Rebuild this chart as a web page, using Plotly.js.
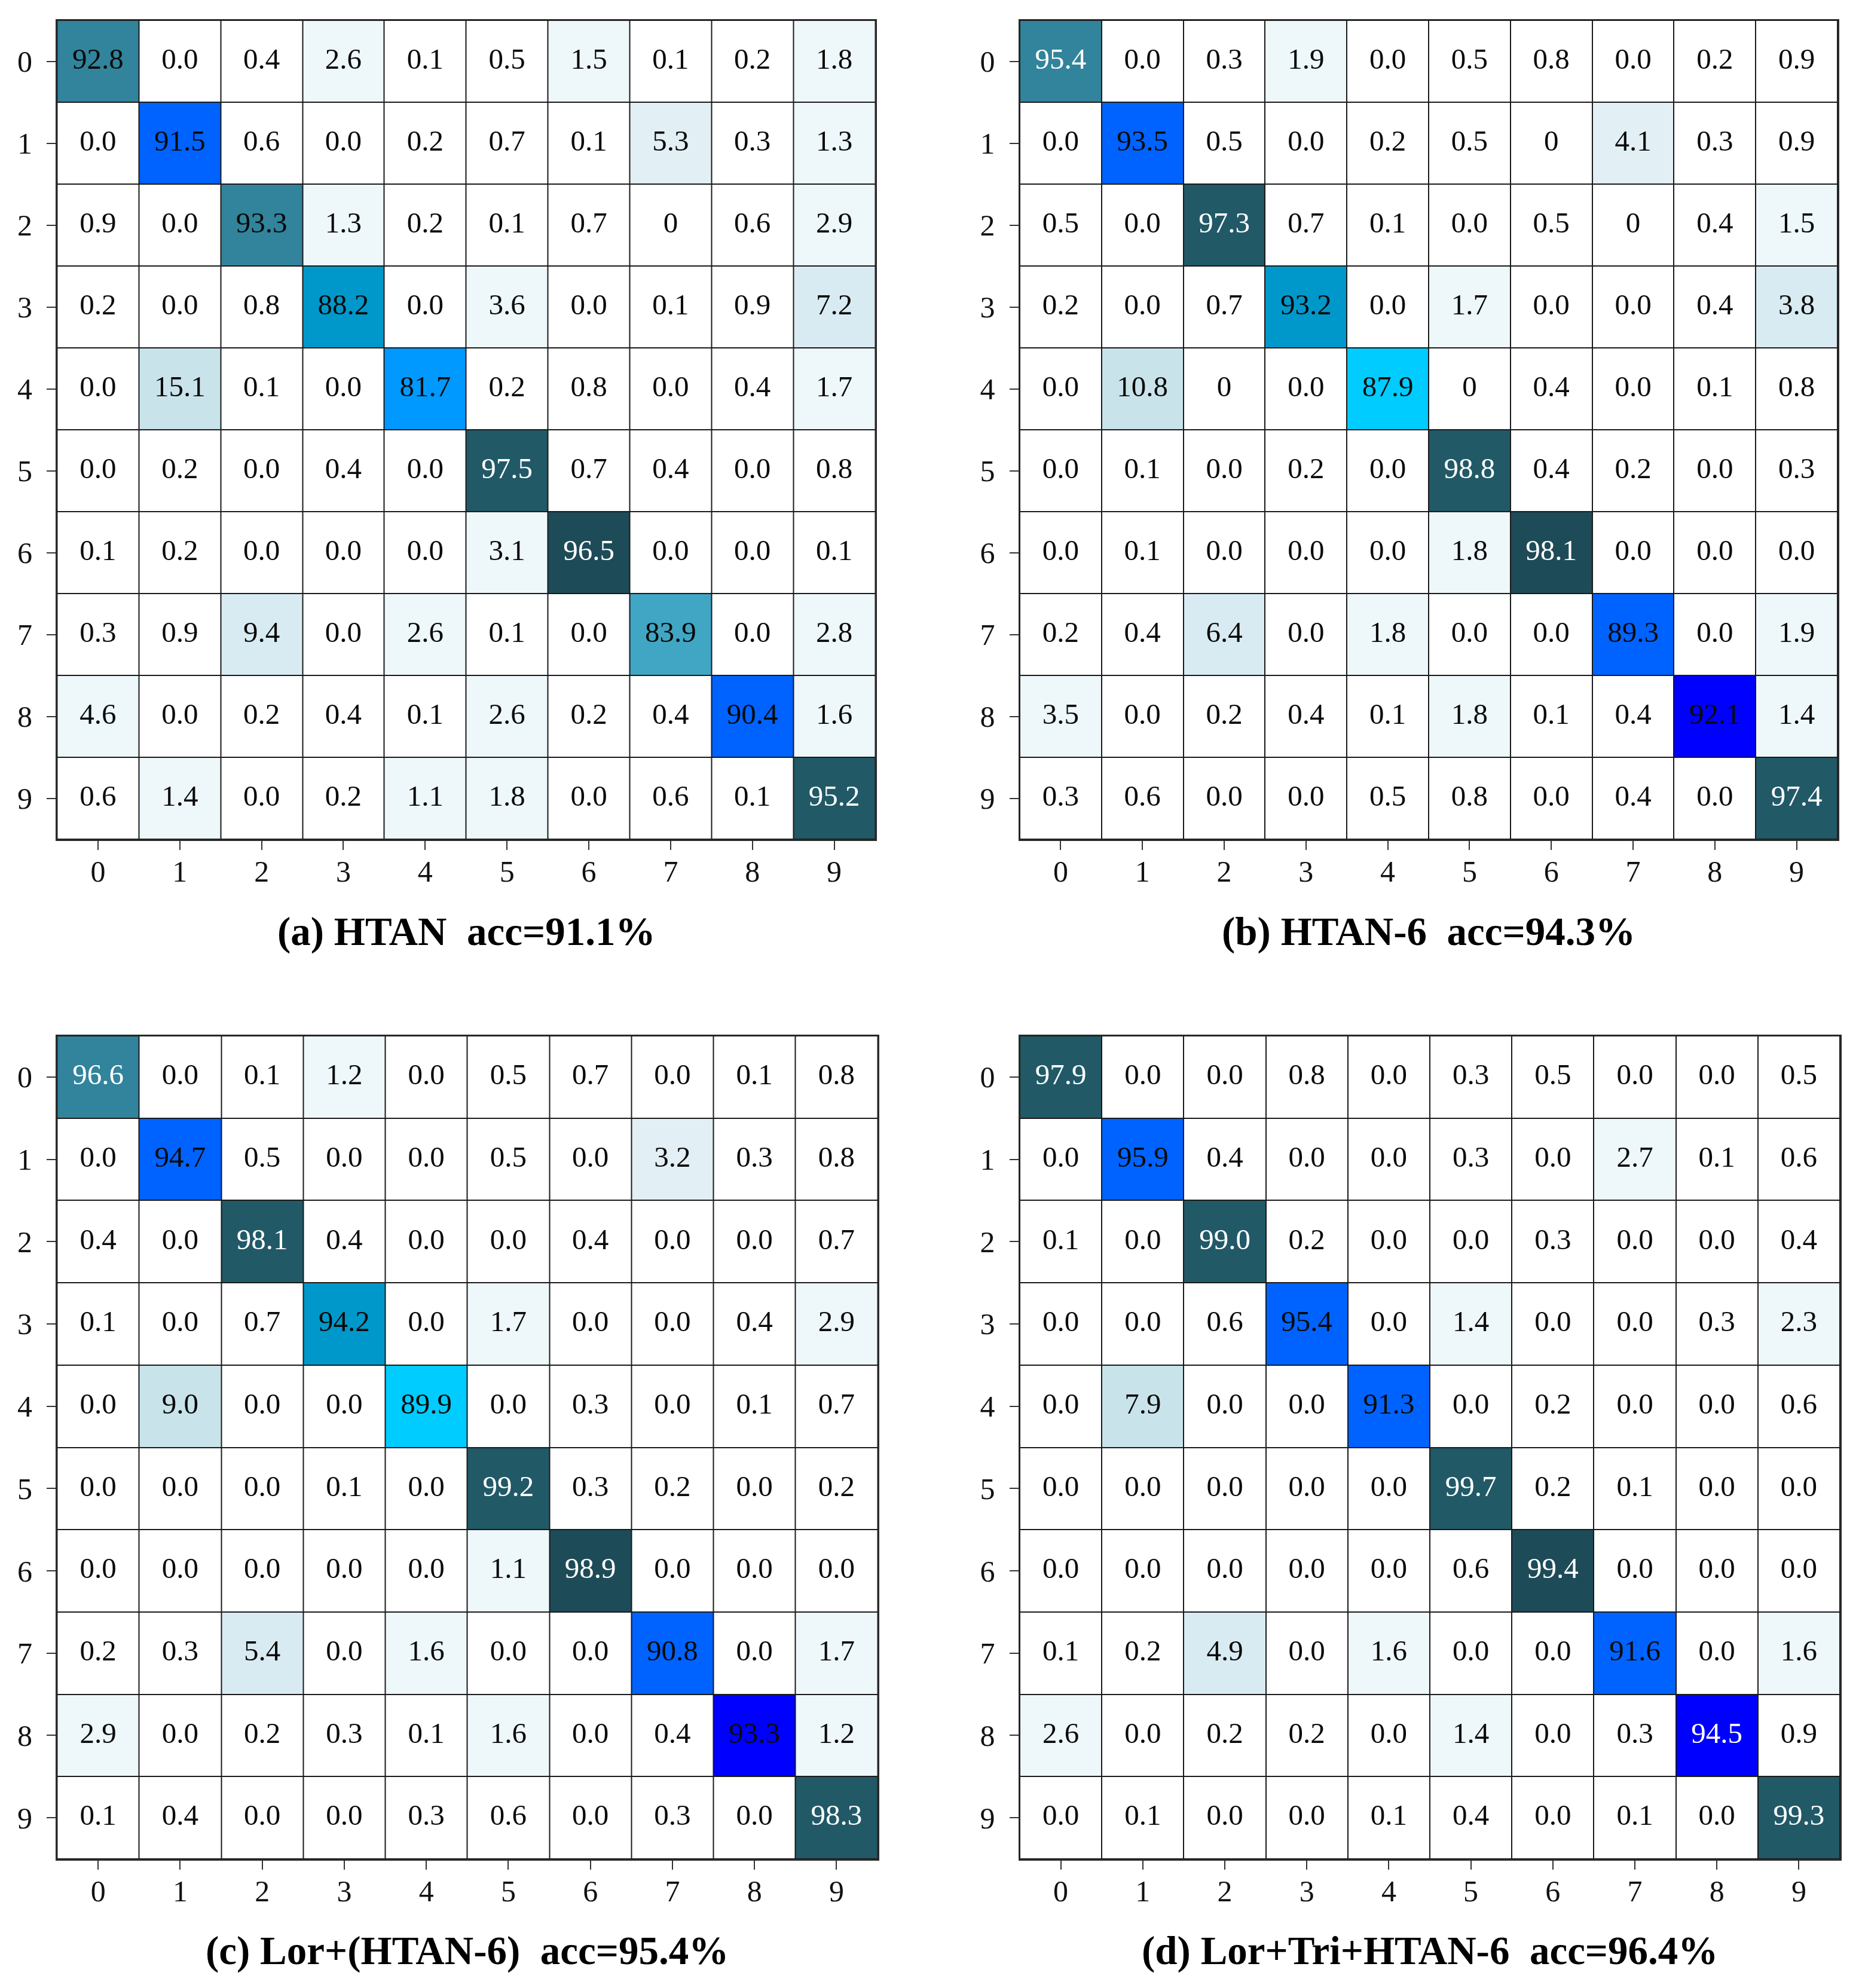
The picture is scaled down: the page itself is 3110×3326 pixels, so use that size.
<!DOCTYPE html>
<html>
<head>
<meta charset="utf-8">
<script src="https://cdn.plot.ly/plotly-3.0.1.min.js"></script>
<style>html,body{margin:0;padding:0;background:#fff;}</style>
</head>
<body>
<div id="chart" style="width:3110px;height:3326px;"></div>
<script>
// ---------- data ----------
const classLabels = ['0','1','2','3','4','5','6','7','8','9'];

const titleA = '(a) HTAN\u00a0\u00a0acc=91.1%';
const titleB = '(b) HTAN-6\u00a0\u00a0acc=94.3%';
const titleC = '(c) Lor+(HTAN-6)\u00a0\u00a0acc=95.4%';
const titleD = '(d) Lor+Tri+HTAN-6\u00a0\u00a0acc=96.4%';

const cmHTAN = [
  ['92.8','0.0','0.4','2.6','0.1','0.5','1.5','0.1','0.2','1.8'],
  ['0.0','91.5','0.6','0.0','0.2','0.7','0.1','5.3','0.3','1.3'],
  ['0.9','0.0','93.3','1.3','0.2','0.1','0.7','0','0.6','2.9'],
  ['0.2','0.0','0.8','88.2','0.0','3.6','0.0','0.1','0.9','7.2'],
  ['0.0','15.1','0.1','0.0','81.7','0.2','0.8','0.0','0.4','1.7'],
  ['0.0','0.2','0.0','0.4','0.0','97.5','0.7','0.4','0.0','0.8'],
  ['0.1','0.2','0.0','0.0','0.0','3.1','96.5','0.0','0.0','0.1'],
  ['0.3','0.9','9.4','0.0','2.6','0.1','0.0','83.9','0.0','2.8'],
  ['4.6','0.0','0.2','0.4','0.1','2.6','0.2','0.4','90.4','1.6'],
  ['0.6','1.4','0.0','0.2','1.1','1.8','0.0','0.6','0.1','95.2']
];

const cmHTAN6 = [
  ['95.4','0.0','0.3','1.9','0.0','0.5','0.8','0.0','0.2','0.9'],
  ['0.0','93.5','0.5','0.0','0.2','0.5','0','4.1','0.3','0.9'],
  ['0.5','0.0','97.3','0.7','0.1','0.0','0.5','0','0.4','1.5'],
  ['0.2','0.0','0.7','93.2','0.0','1.7','0.0','0.0','0.4','3.8'],
  ['0.0','10.8','0','0.0','87.9','0','0.4','0.0','0.1','0.8'],
  ['0.0','0.1','0.0','0.2','0.0','98.8','0.4','0.2','0.0','0.3'],
  ['0.0','0.1','0.0','0.0','0.0','1.8','98.1','0.0','0.0','0.0'],
  ['0.2','0.4','6.4','0.0','1.8','0.0','0.0','89.3','0.0','1.9'],
  ['3.5','0.0','0.2','0.4','0.1','1.8','0.1','0.4','92.1','1.4'],
  ['0.3','0.6','0.0','0.0','0.5','0.8','0.0','0.4','0.0','97.4']
];

const cmLor = [
  ['96.6','0.0','0.1','1.2','0.0','0.5','0.7','0.0','0.1','0.8'],
  ['0.0','94.7','0.5','0.0','0.0','0.5','0.0','3.2','0.3','0.8'],
  ['0.4','0.0','98.1','0.4','0.0','0.0','0.4','0.0','0.0','0.7'],
  ['0.1','0.0','0.7','94.2','0.0','1.7','0.0','0.0','0.4','2.9'],
  ['0.0','9.0','0.0','0.0','89.9','0.0','0.3','0.0','0.1','0.7'],
  ['0.0','0.0','0.0','0.1','0.0','99.2','0.3','0.2','0.0','0.2'],
  ['0.0','0.0','0.0','0.0','0.0','1.1','98.9','0.0','0.0','0.0'],
  ['0.2','0.3','5.4','0.0','1.6','0.0','0.0','90.8','0.0','1.7'],
  ['2.9','0.0','0.2','0.3','0.1','1.6','0.0','0.4','93.3','1.2'],
  ['0.1','0.4','0.0','0.0','0.3','0.6','0.0','0.3','0.0','98.3']
];

const cmLorTri = [
  ['97.9','0.0','0.0','0.8','0.0','0.3','0.5','0.0','0.0','0.5'],
  ['0.0','95.9','0.4','0.0','0.0','0.3','0.0','2.7','0.1','0.6'],
  ['0.1','0.0','99.0','0.2','0.0','0.0','0.3','0.0','0.0','0.4'],
  ['0.0','0.0','0.6','95.4','0.0','1.4','0.0','0.0','0.3','2.3'],
  ['0.0','7.9','0.0','0.0','91.3','0.0','0.2','0.0','0.0','0.6'],
  ['0.0','0.0','0.0','0.0','0.0','99.7','0.2','0.1','0.0','0.0'],
  ['0.0','0.0','0.0','0.0','0.0','0.6','99.4','0.0','0.0','0.0'],
  ['0.1','0.2','4.9','0.0','1.6','0.0','0.0','91.6','0.0','1.6'],
  ['2.6','0.0','0.2','0.2','0.0','1.4','0.0','0.3','94.5','0.9'],
  ['0.0','0.1','0.0','0.0','0.1','0.4','0.0','0.1','0.0','99.3']
];

// ---------- styles ----------
const C = {
  white:'#ffffff', vl:'#eef7fa', l1:'#e2eff5', l2:'#d9ebf2', l3:'#c9e3eb',
  azure:'#0099ff', lteal:'#40a6c4', mteal:'#0098ca', cyan:'#00ccff',
  blue:'#0063ff', deep:'#0000ff', teal:'#31849b', dark:'#215967', darker:'#1e4b58'
};
const K = '#0a0a0a', Wt = '#ffffff';
// colour bands: [lower bound of value, fill, text colour]
const bandsA = [[0,C.white,K],[1,C.vl,K],[5,C.l1,K],[7,C.l2,K],[12,C.l3,K],[80,C.azure,K],[83,C.lteal,K],
  [86,C.mteal,K],[90,C.blue,K],[92.5,C.teal,K],[95,C.dark,Wt],[96,C.darker,Wt],[97,C.dark,Wt]];
const bandsB = [[0,C.white,K],[1,C.vl,K],[3.7,C.l2,K],[4,C.l1,K],[5,C.l2,K],[10,C.l3,K],[87,C.cyan,K],
  [89,C.blue,K],[92,C.deep,K],[93,C.mteal,K],[93.4,C.blue,K],[95,C.teal,Wt],[97,C.dark,Wt],[98,C.darker,Wt],[98.5,C.dark,Wt]];
const bandsC = [[0,C.white,K],[1,C.vl,K],[3,C.l1,K],[5,C.l2,K],[8,C.l3,K],[89,C.cyan,K],[90.5,C.blue,K],
  [93,C.deep,K],[94,C.mteal,K],[94.5,C.blue,K],[96,C.teal,Wt],[97,C.dark,Wt],[98.8,C.darker,Wt],[99,C.dark,Wt]];
const bandsD = [[0,C.white,K],[1,C.vl,K],[4,C.l2,K],[7,C.l3,K],[91,C.blue,K],[94,C.deep,Wt],[95,C.blue,K],
  [97,C.dark,Wt],[99.35,C.darker,Wt],[99.5,C.dark,Wt]];

const W = 3110, H = 3326;
const panels = [
  {data:cmHTAN,  title:titleA, px:[95.5,1464], py:[34,1404],   bands:bandsA, base:1583},
  {data:cmHTAN6, title:titleB, px:[1706,3074], py:[34,1404],   bands:bandsB, base:1583},
  {data:cmLor,   title:titleC, px:[95.5,1468], py:[1733,3110], bands:bandsC, base:3288},
  {data:cmLorTri,title:titleD, px:[1706,3078], py:[1733,3110], bands:bandsD, base:3288}
];

const ZMIN = 0, ZMAX = 100;
function buildScale(bands){
  const cs = [];
  for (let i = 0; i < bands.length; i++){
    const a = (bands[i][0]-ZMIN)/(ZMAX-ZMIN);
    const b = i < bands.length-1 ? (bands[i+1][0]-ZMIN)/(ZMAX-ZMIN) - 1e-7 : 1;
    cs.push([a, bands[i][1]]);
    cs.push([b, bands[i][1]]);
  }
  return cs;
}
function textColor(bands, v){
  let c = bands[0][2];
  for (const b of bands) if (v >= b[0]) c = b[2];
  return c;
}

const idx = classLabels.map((_, i) => i);
const traces = [];
const layout = {
  width: W, height: H, autosize: false,
  margin: {l:0, r:0, t:0, b:0},
  paper_bgcolor: '#ffffff', plot_bgcolor: '#1a1a1a',
  showlegend: false,
  annotations: []
};
const serif = 'Liberation Serif, Times New Roman, serif';

panels.forEach((p, i) => {
  const suf = i === 0 ? '' : String(i+1);
  const z = p.data.map(r => r.map(Number));
  traces.push({
    type:'heatmap', z: z, x: idx, y: idx,
    xaxis:'x'+suf, yaxis:'y'+suf,
    zmin: ZMIN, zmax: ZMAX, colorscale: buildScale(p.bands),
    showscale:false, xgap:2, ygap:2, hoverinfo:'skip'
  });
  const tx = [], ty = [], tt = [], tc = [];
  p.data.forEach((row, r) => row.forEach((s, c) => {
    tx.push(c); ty.push(r); tt.push(s); tc.push(textColor(p.bands, Number(s)));
  }));
  traces.push({
    type:'scatter', mode:'text', x: tx, y: ty, text: tt,
    xaxis:'x'+suf, yaxis:'y'+suf,
    textposition:'middle center',
    textfont:{family: serif, size: 49, color: tc},
    hoverinfo:'skip'
  });
  const common = {
    showgrid:false, zeroline:false, showline:true, mirror:true,
    linecolor:'#2a2a2a', linewidth:2.5,
    ticks:'outside', ticklen:15, tickwidth:2, tickcolor:'#333333',
    tickvals: idx, ticktext: classLabels,
    tickfont:{family: serif, size: 50, color:'#111111'},
    fixedrange:true
  };
  layout['xaxis'+suf] = Object.assign({}, common, {
    domain:[p.px[0]/W, p.px[1]/W], anchor:'y'+suf, range:[-0.5, 9.5],
    ticklabelstandoff: -7
  });
  layout['yaxis'+suf] = Object.assign({}, common, {
    domain:[1 - p.py[1]/H, 1 - p.py[0]/H], anchor:'x'+suf, range:[9.5, -0.5],
    ticklabelstandoff: 14
  });
  layout.annotations.push({
    xref:'paper', yref:'paper',
    x: (p.px[0]+p.px[1])/2/W, y: 1 - (p.base + 15)/H,
    xanchor:'center', yanchor:'bottom', showarrow:false,
    text: '<b>' + p.title + '</b>',
    font:{family: serif, size: 67, color:'#000000'}
  });
});

Plotly.newPlot('chart', traces, layout, {staticPlot:true, displayModeBar:false});
</script>
</body>
</html>
